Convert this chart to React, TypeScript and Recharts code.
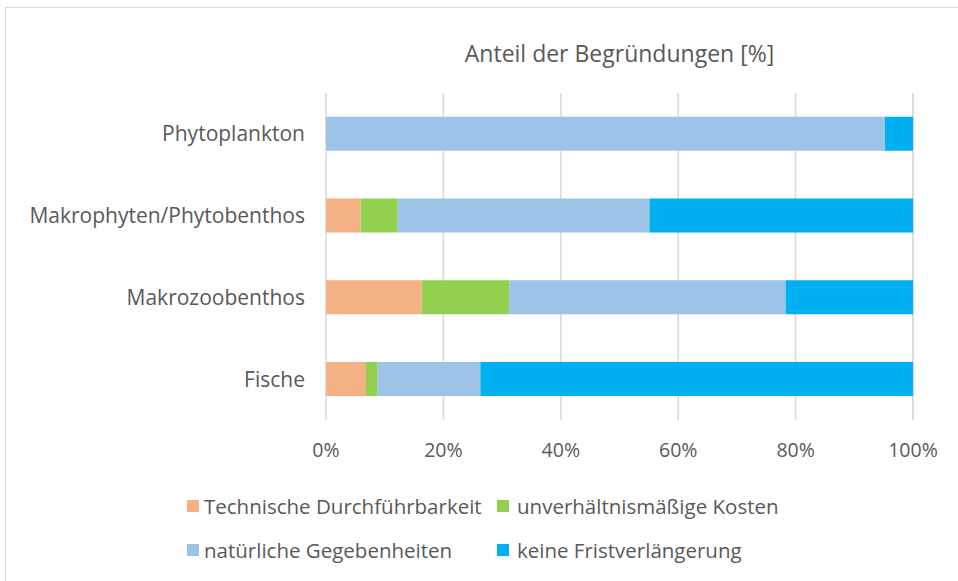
import { BarChart, Bar, XAxis, YAxis, CartesianGrid, Legend } from 'recharts'

const categories = ['Phytoplankton', 'Makrophyten/Phytobenthos', 'Makrozoobenthos', 'Fische']
const technisch = [0, 5.9, 16.3, 6.8]
const kosten = [0, 6.3, 14.9, 2.0]
const natuerlich = [95.2, 42.9, 47.1, 17.5]
const keine = [4.8, 44.9, 21.7, 73.7]
const xTicks = [0, 20, 40, 60, 80, 100]

const series = [
  { key: 'technisch', name: 'Technische Durchführbarkeit', color: '#F4B183' },
  { key: 'kosten', name: 'unverhältnismäßige Kosten', color: '#92D050' },
  { key: 'natuerlich', name: 'natürliche Gegebenheiten', color: '#9DC3E6' },
  { key: 'keine', name: 'keine Fristverlängerung', color: '#00B0F0' },
]

const data = categories.map((c, i) => ({
  name: c,
  technisch: technisch[i],
  kosten: kosten[i],
  natuerlich: natuerlich[i],
  keine: keine[i],
}))

const font = '"Open Sans", sans-serif'
const textColor = '#595959'

const LegendGrid = () => (
  <div style={{ position: 'relative', width: 958, height: 80, fontFamily: font, fontSize: 20.5, color: textColor }}>
    {series.map((s, i) => (
      <div
        key={s.key}
        style={{
          position: 'absolute',
          left: i % 2 === 0 ? 181 : 491,
          top: i < 2 ? 0 : 44,
          display: 'flex',
          alignItems: 'center',
          whiteSpace: 'nowrap',
          height: 24,
        }}
      >
        <span style={{ width: 12, height: 12, background: s.color, display: 'inline-block', marginRight: i % 2 === 0 ? 5 : 8 }} />
        {s.name}
      </div>
    ))}
  </div>
)

const App = () => {
  return (
    <div
      style={{
        position: 'absolute',
        left: 5,
        top: 7,
        width: 960,
        height: 580,
        border: '1px solid #d9d9d9',
        background: '#fff',
      }}
    >
      <div
        style={{
          position: 'absolute',
          left: 320,
          width: 587,
          top: 29,
          textAlign: 'center',
          fontFamily: font,
          fontSize: 23,
          color: textColor,
        }}
      >
        Anteil der Begründungen [%]
      </div>
      <BarChart
        width={958}
        height={572}
        data={data}
        layout='vertical'
        barCategoryGap='29%'
        margin={{ top: 85, right: 51, left: 0, bottom: 120 }}
      >
        <CartesianGrid horizontal={false} stroke='#d9d9d9' strokeWidth={1.5} />
        <XAxis
          type='number'
          domain={[0, 100]}
          ticks={xTicks}
          tickFormatter={(v) => `${v}%`}
          axisLine={false}
          tickLine={false}
          tickMargin={17}
          height={40}
          tick={{ fontSize: 19.5, fill: textColor, fontFamily: font }}
        />
        <YAxis
          type='category'
          dataKey='name'
          width={320}
          axisLine={false}
          tickLine={false}
          tickMargin={15}
          tick={{ fontSize: 21, fill: textColor, fontFamily: font }}
        />
        {series.map((s) => (
          <Bar key={s.key} dataKey={s.key} name={s.name} stackId='a' fill={s.color} isAnimationActive={false} />
        ))}
        <Legend
          verticalAlign='middle'
          align='center'
          wrapperStyle={{ top: 486, left: 0, width: 958 }}
          content={() => <LegendGrid />}
        />
      </BarChart>
    </div>
  )
}

export default App
